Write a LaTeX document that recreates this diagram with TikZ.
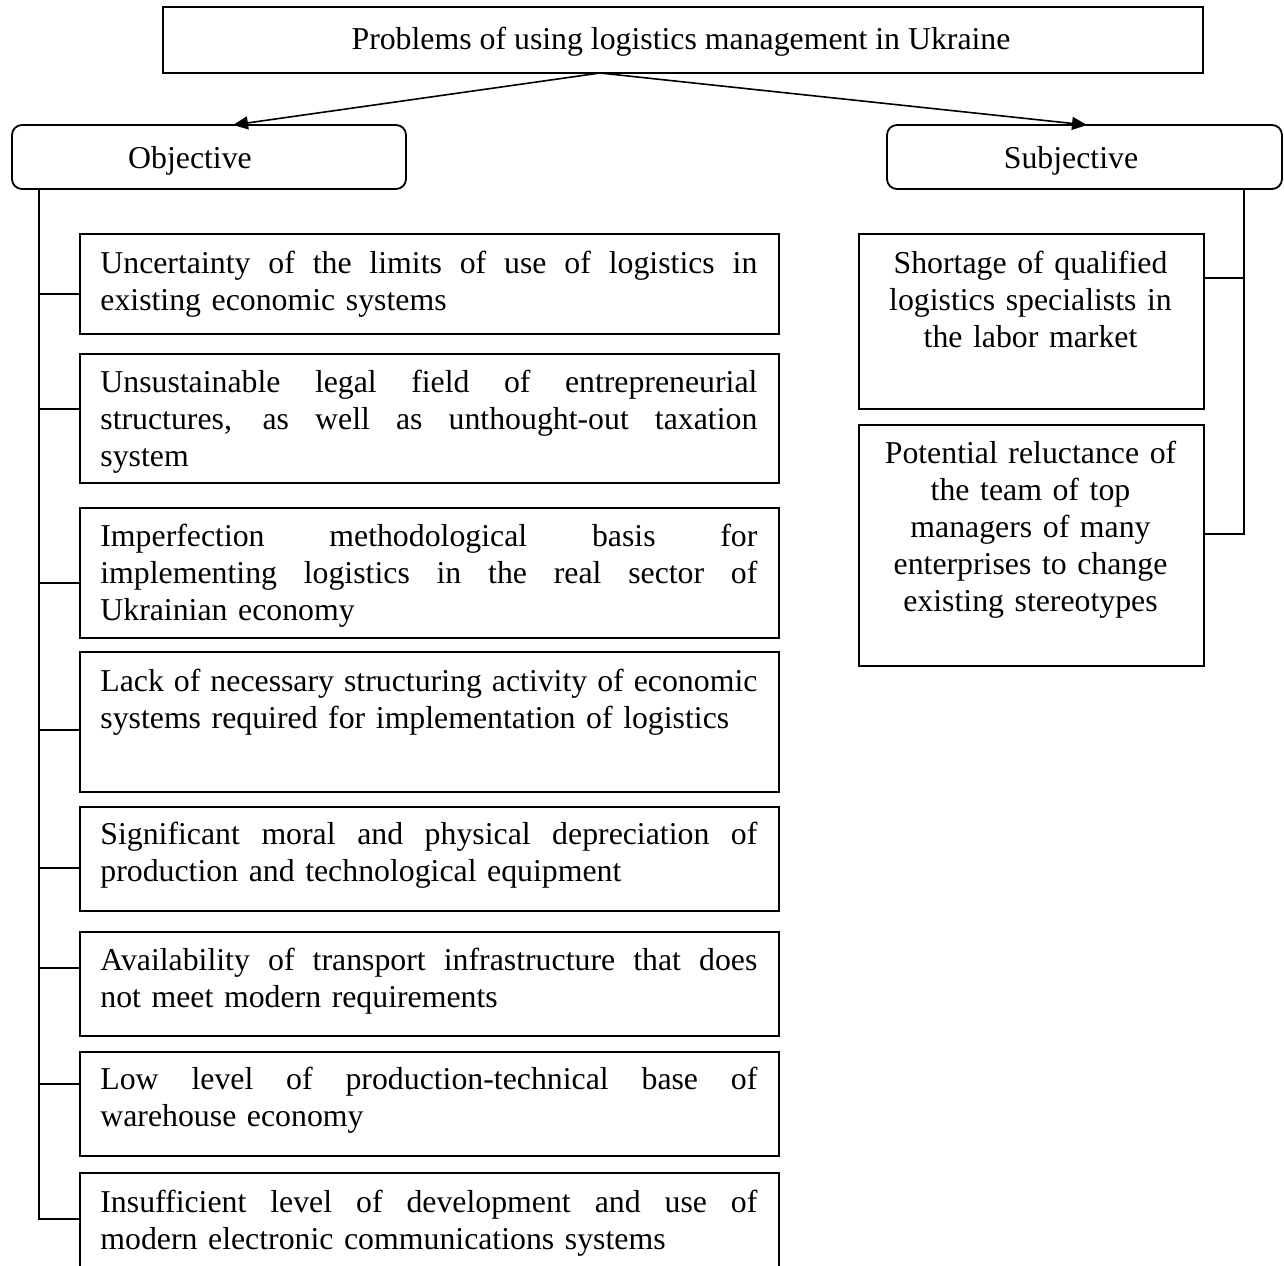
\documentclass[tikz,border=0pt]{standalone}
\usepackage{fontspec}
\setmainfont{Liberation Serif}
\usetikzlibrary{arrows.meta}
\newlength\boxtw
\setlength\boxtw{328.5pt}
\newcommand\jline[1]{\leavevmode\hbox to \boxtw{\spaceskip=\fontdimen2\font plus 1fil\relax #1}}
\begin{document}
\begin{tikzpicture}[x=0.5pt,y=-0.5pt,
  every node/.style={font=\fontsize{15.9pt}{18.5pt}\selectfont},
  pbox/.style={draw, line width=0.9pt, inner sep=0pt, anchor=north west},
  lbox/.style={pbox, minimum width=349.5pt},
  rbox/.style={pbox, minimum width=172.5pt},
  ltext/.style={anchor=base west, inner sep=0pt, text width=328.5pt, align=left},
  rtext/.style={anchor=base, inner sep=0pt, text width=160pt, align=center},
  conn/.style={line width=0.8pt},
  arr/.style={line width=0.8pt, -{Triangle[length=7.5pt,width=6.5pt]}}
]
\useasboundingbox (0,0) rectangle (1284,1265);
\clip (0,0) rectangle (1284,1265);
\fill[white] (0,0) rectangle (1284,1265);

% top
\node[pbox, anchor=center, minimum width=520pt, minimum height=33pt] (top) at (683,40) {};
\node[anchor=base, inner sep=0pt] (topt) at (681,49) {Problems of using logistics management in Ukraine};

% categories
\node[pbox, anchor=center, rounded corners=5pt, minimum width=197pt, minimum height=32pt] (obj) at (209,157) {};
\node[anchor=base, inner sep=0pt] (objt) at (190,168) {Objective};
\node[pbox, anchor=center, rounded corners=5pt, minimum width=197.5pt, minimum height=32pt] (subj) at (1084.5,157) {};
\node[anchor=base, inner sep=0pt] (subjt) at (1071,168) {Subjective};

\coordinate (apex) at (600,73);
\coordinate (objin) at (233,125);
\coordinate (subin) at (1087,125);
\draw[arr] (apex) -- (objin);
\draw[arr] (apex) -- (subin);

% left boxes
\node[lbox, minimum height=50pt]   (b1) at (79,233) {};
\node[lbox, minimum height=64.5pt] (b2) at (79,353) {};
\node[lbox, minimum height=65pt]   (b3) at (79,507) {};
\node[lbox, minimum height=70pt]   (b4) at (79,651) {};
\node[lbox, minimum height=52pt]   (b5) at (79,806) {};
\node[lbox, minimum height=52pt]   (b6) at (79,931) {};
\node[lbox, minimum height=52pt]   (b7) at (79,1051) {};
\node[lbox, minimum height=59pt]   (b8) at (79,1172) {};

\node[ltext] (t1) at (100,273) {\jline{Uncertainty of the limits of use of logistics in}\\existing economic systems};
\node[ltext] (t2) at (100,392) {\jline{Unsustainable legal field of entrepreneurial}\\\jline{structures, as well as unthought-out taxation}\\system};
\node[ltext] (t3) at (100,546) {\jline{Imperfection methodological basis for}\\\jline{implementing logistics in the real sector of}\\Ukrainian economy};
\node[ltext] (t4) at (100,691) {\jline{Lack of necessary structuring activity of economic}\\systems required for implementation of logistics};
\node[ltext] (t5) at (100,844) {\jline{Significant moral and physical depreciation of}\\production and technological equipment};
\node[ltext] (t6) at (100,970) {\jline{Availability of transport infrastructure that does}\\not meet modern requirements};
\node[ltext] (t7) at (100,1089) {\jline{Low level of production-technical base of}\\warehouse economy};
\node[ltext] (t8) at (100,1212) {\jline{Insufficient level of development and use of}\\modern electronic communications systems};

% left spine
\coordinate (ls1) at (39,294);
\coordinate (ls2) at (39,409);
\coordinate (ls3) at (39,583);
\coordinate (ls4) at (39,730);
\coordinate (ls5) at (39,868);
\coordinate (ls6) at (39,968);
\coordinate (ls7) at (39,1084);
\coordinate (ls8) at (39,1219);
\draw[conn] (obj.south -| ls1) -- (ls8) -- (ls8 -| b8.west);
\foreach \i in {1,...,7} {\draw[conn] (ls\i) -- (ls\i -| b\i.west);}

% right boxes
\node[rbox, minimum height=87.5pt]  (r1) at (858,233) {};
\node[rbox, minimum height=120.5pt] (r2) at (858,424) {};
\node[rtext] (rt1) at (1030.5,273) {Shortage of qualified\\logistics specialists in\\the labor market};
\node[rtext] (rt2) at (1030.5,463) {Potential reluctance of\\the team of top\\managers of many\\enterprises to change\\existing stereotypes};

\coordinate (rs1) at (1244,278);
\coordinate (rs2) at (1244,534);
\draw[conn] (subj.south -| rs1) -- (rs2) -- (rs2 -| r2.east);
\draw[conn] (rs1) -- (rs1 -| r1.east);
\end{tikzpicture}
\end{document}
